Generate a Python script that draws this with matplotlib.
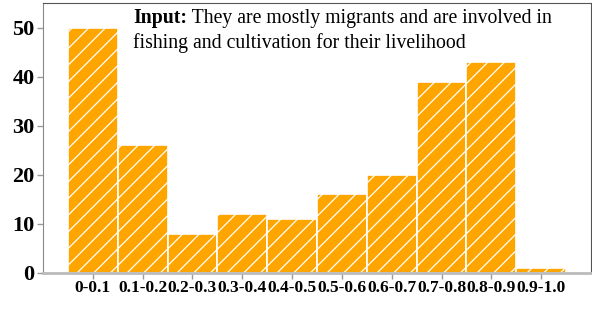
import matplotlib
matplotlib.use("Agg")
import matplotlib.pyplot as plt
import numpy as np

categories = ["0-0.1", "0.1-0.2", "0.2-0.3", "0.3-0.4", "0.4-0.5",
              "0.5-0.6", "0.6-0.7", "0.7-0.8", "0.8-0.9", "0.9-1.0"]
counts = [50, 26, 8, 12, 11, 16, 20, 39, 43, 1]
yticks = [0, 10, 20, 30, 40, 50]

plt.rcParams['font.family'] = ['Liberation Serif', 'DejaVu Serif']
plt.rcParams['hatch.color'] = 'white'
plt.rcParams['hatch.linewidth'] = 0.9

fig = plt.figure(figsize=(5.92, 3.22), dpi=100)
ax = fig.add_axes([43/592, 1 - 273/322, (591-43)/592, (273-3)/322])

x = np.arange(len(categories))
ax.bar(x, counts, width=1.0, color='orange', edgecolor='white', linewidth=1.2, hatch='//')

ax.set_xlim(-1, 10)
ax.set_ylim(0, 55)
ax.set_xticks(x)
ax.set_xticklabels(categories, fontsize=12.5, fontweight='bold')
ax.set_yticks(yticks)
ax.set_yticklabels([str(v) for v in yticks], fontsize=16, fontweight='bold')
ax.tick_params(axis='both', color='#999999', length=4, width=1, pad=2)
ax.tick_params(axis='x', pad=1)

ax.spines['left'].set_color('#888888')
ax.spines['bottom'].set_color('#bbbbbb')
ax.spines['bottom'].set_linewidth(2)
ax.spines['top'].set_color('#555555')
ax.spines['right'].set_color('#555555')
ax.spines['top'].set_linewidth(0.8)
ax.spines['right'].set_linewidth(0.8)

fs = 14.2
t1 = ax.text((133-43)/548, 1 - 20/270, "Input:", transform=ax.transAxes,
             fontsize=fs, fontweight='bold', va='baseline', ha='left')
ax.annotate(" They are mostly migrants and are involved in", xy=(1, 0), xycoords=t1,
            fontsize=fs, va='bottom', ha='left')
ax.text((133-43)/548, 1 - 45/270, "fishing and cultivation for their livelihood",
        transform=ax.transAxes, fontsize=fs, va='baseline', ha='left')

fig.savefig("out.png", dpi=100)
